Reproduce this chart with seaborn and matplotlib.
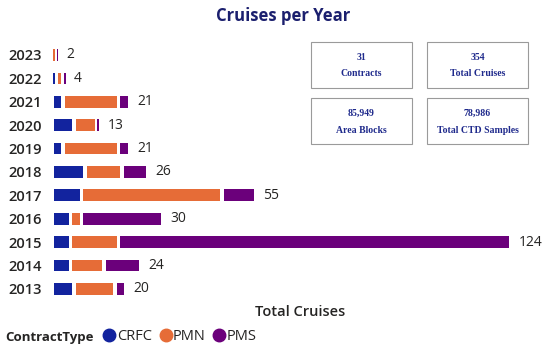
import matplotlib
matplotlib.use("Agg")
import matplotlib.pyplot as plt
from matplotlib.lines import Line2D
from matplotlib.patches import Rectangle
import seaborn as sns
import pandas as pd

# ------------------------------------------------------------------
# data
# ------------------------------------------------------------------
years = [2023, 2022, 2021, 2020, 2019, 2018, 2017, 2016, 2015, 2014, 2013]
crfc = [0, 1, 3, 6, 3, 9, 8, 5, 5, 5, 6]
pmn = [1, 2, 15, 6, 15, 10, 38, 3, 13, 9, 11]
pms = [1, 1, 3, 1, 3, 7, 9, 22, 106, 10, 3]

series_names = ["CRFC", "PMN", "PMS"]
series_colors = ["#12239E", "#E66C37", "#6B007B"]

kpi_values = ["31", "354", "85,949", "78,986"]
kpi_labels = ["Contracts", "Total Cruises", "Area Blocks", "Total CTD Samples"]

df = pd.DataFrame({"Year": years, "CRFC": crfc, "PMN": pmn, "PMS": pms})
df["Total"] = df[series_names].sum(axis=1)

sns.set_theme(style="white")
plt.rcParams["font.family"] = ["Open Sans", "DejaVu Sans"]

TEXT = "#252423"
NAVY = "#1b1f6e"

fig = plt.figure(figsize=(5.5, 3.52), dpi=100)
ax = fig.add_axes([0.0945, 0.146, 0.895, 0.731])

# stacked horizontal bars, each segment trimmed a little to leave a white gap
gap = 1.0
left = pd.Series(0.0, index=df.index)
for name, color in zip(series_names, series_colors):
    vals = df[name]
    for i, v in enumerate(vals):
        if v <= 0:
            continue
        w = max(v - gap, 0.5)
        ax.barh(i, w, left=left[i] + (v - w) / 2, height=0.5,
                color=color, edgecolor="none")
    left = left + vals

for i, tot in enumerate(df["Total"]):
    ax.text(tot + 2.0, i, str(tot), va="center", ha="left",
            fontsize=10, color=TEXT)

ax.set_yticks(range(len(years)))
ax.set_yticklabels([str(y) for y in years], fontsize=10.5, color=TEXT,
                   fontweight="semibold")
ax.tick_params(axis="y", length=0, pad=7)
ax.set_xticks([])
ax.set_xlim(0, 133)
ax.set_ylim(len(years) - 0.5, -0.5)
sns.despine(ax=ax, left=True, bottom=True)

fig.text(0.514, 0.955, "Cruises per Year", ha="center", va="center",
         fontsize=12, fontweight="bold", color=NAVY)
fig.text(0.545, 0.114, "Total Cruises", ha="center", va="center",
         fontsize=10.5, fontweight="semibold", color=TEXT)

# KPI cards
card_x = [311, 427, 311, 427]
card_y = [42, 42, 98, 98]
card_w, card_h = 101, 46
for cx, cy, val, lab in zip(card_x, card_y, kpi_values, kpi_labels):
    fig.patches.append(Rectangle((cx / 550, 1 - (cy + card_h) / 352),
                                 card_w / 550, card_h / 352,
                                 transform=fig.transFigure, fill=False,
                                 edgecolor="#9a9a9a", linewidth=0.8))
    fig.text((cx + card_w / 2) / 550, 1 - (cy + 15) / 352, val,
             ha="center", va="center", fontsize=7, fontweight="bold",
             color="#1f2a8c", family="Liberation Serif")
    fig.text((cx + card_w / 2) / 550, 1 - (cy + 32) / 352, lab,
             ha="center", va="center", fontsize=7, fontweight="bold",
             color="#1f2a8c", family="Liberation Serif")

# legend
fig.text(5 / 550, 1 - 337 / 352, "ContractType", ha="left", va="center",
         fontsize=9.5, fontweight="bold", color=TEXT)
handles = [Line2D([], [], marker="o", linestyle="none", markersize=9,
                  color=c) for c in series_colors]
fig.legend(handles, series_names, loc="center left",
           bbox_to_anchor=(97 / 550, 1 - 337 / 352), ncol=3, frameon=False,
           handlelength=0.7, handletextpad=0.15, columnspacing=0.6,
           fontsize=10.5, labelcolor=TEXT, borderpad=0)

fig.savefig("out.png", dpi=100)
